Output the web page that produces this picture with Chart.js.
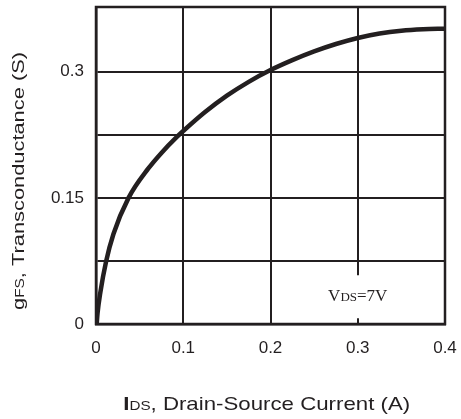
<!DOCTYPE html>
<html>
<head>
<meta charset="utf-8">
<script src="https://cdn.jsdelivr.net/npm/chart.js@4.4.1/dist/chart.umd.min.js"></script>
<style>
  html, body { margin: 0; padding: 0; background: #ffffff; }
  #wrap { width: 461px; height: 419px; }
</style>
</head>
<body>
<div id="wrap"><canvas id="c" width="461" height="419"></canvas></div>
<script>
// ---- data ----
const drainCurrentA = [0.0008, 0.0018, 0.0049, 0.0115, 0.02, 0.0373, 0.06, 0.075, 0.0927, 0.1, 0.125, 0.15, 0.175, 0.2, 0.225, 0.25, 0.275, 0.3, 0.325, 0.35, 0.375, 0.4];
const transconductanceS = [0, 0.013, 0.037, 0.074, 0.107, 0.150, 0.185, 0.2035, 0.2225, 0.2295, 0.252, 0.2715, 0.288, 0.302, 0.3138, 0.3242, 0.333, 0.3402, 0.3455, 0.3488, 0.3505, 0.3512];
const xTickLabels = [0, 0.1, 0.2, 0.3, 0.4];
const yTickLabels = [0, 0.15, 0.3];
const annotationText = ['V', 'DS', '=7V'];
const xTitleParts = ['I', 'DS', ', Drain-Source Current (A)'];
const yTitleParts = ['g', 'FS', ', Transconductance (S)'];

const INK = '#231f20';
const SANS = '"Liberation Sans", Arial, Helvetica, sans-serif';
const SERIF = '"Liberation Serif", "Times New Roman", serif';

function drawRich(ctx, segs, cx, cy, rot, targetWidth) {
  ctx.save();
  let natural = 0;
  const widths = segs.map(s => { ctx.font = s.font; const w = ctx.measureText(s.text).width; natural += w; return w; });
  const sc = targetWidth ? targetWidth / natural : 1;
  ctx.translate(cx, cy);
  ctx.rotate(rot);
  ctx.scale(sc, 1);
  ctx.fillStyle = INK;
  ctx.textBaseline = 'alphabetic';
  ctx.textAlign = 'left';
  let x = -natural / 2;
  segs.forEach((s, i) => { ctx.font = s.font; ctx.fillText(s.text, x, 0); x += widths[i]; });
  ctx.restore();
}

const decorPlugin = {
  id: 'decor',
  afterDraw(chart) {
    const ctx = chart.ctx;
    const xs = chart.scales.x, ys = chart.scales.y;
    // annotation V_DS = 7V
    const ax = xs.getPixelForValue(0.3);
    const ay = ys.getPixelForValue(0.033);
    ctx.save();
    ctx.fillStyle = '#ffffff';
    ctx.fillRect(ax - 8, ay - 21, 16, 43);
    ctx.restore();
    drawRich(ctx, [
      { text: annotationText[0], font: '17px ' + SERIF },
      { text: annotationText[1], font: '13px ' + SERIF },
      { text: annotationText[2], font: '17px ' + SERIF }
    ], ax, ay + 5, 0, 0);
    // axis titles
    drawRich(ctx, [
      { text: xTitleParts[0], font: 'bold 19px ' + SANS },
      { text: xTitleParts[1], font: '13px ' + SANS },
      { text: xTitleParts[2], font: '19px ' + SANS }
    ], 266.7, 410, 0, 287);
    drawRich(ctx, [
      { text: yTitleParts[0], font: '17px ' + SANS },
      { text: yTitleParts[1], font: '12px ' + SANS },
      { text: yTitleParts[2], font: '17px ' + SANS }
    ], 24, 181, -Math.PI / 2, 258);
    // frame
    const a = chart.chartArea;
    ctx.save();
    ctx.strokeStyle = INK;
    ctx.lineWidth = 2.5;
    ctx.strokeRect(a.left, a.top, a.right - a.left, a.bottom - a.top);
    ctx.restore();
  }
};

function near(v, list) { return list.some(t => Math.abs(t - v) < 1e-6); }
function fmt(v) { return String(Number(v.toFixed(3))); }
function noOverhang(s) { s.paddingTop = 0; s.paddingBottom = 0; s.paddingLeft = 0; s.paddingRight = 0; }

new Chart(document.getElementById('c'), {
  type: 'scatter',
  data: {
    datasets: [{
      data: drainCurrentA.map((x, i) => ({ x: x, y: transconductanceS[i] })),
      showLine: true,
      borderColor: INK,
      borderWidth: 4.5,
      pointRadius: 0,
      cubicInterpolationMode: 'monotone',
      fill: false
    }]
  },
  options: {
    responsive: false,
    animation: false,
    devicePixelRatio: 1,
    layout: { padding: { top: 7, right: 16, left: 0, bottom: 0 } },
    plugins: { legend: { display: false }, tooltip: { enabled: false } },
    scales: {
      x: {
        type: 'linear', min: 0, max: 0.4,
        afterFit(s) { s.height = 95; noOverhang(s); },
        ticks: {
          stepSize: 0.1, color: INK, padding: 14, maxRotation: 0,
          font: { family: SANS, size: 17 },
          callback: v => near(v, xTickLabels) ? fmt(v) : ''
        },
        grid: { color: INK, lineWidth: 2, drawTicks: false },
        border: { display: true, color: INK, width: 2.5 }
      },
      y: {
        type: 'linear', min: 0, max: 0.377,
        afterFit(s) { s.width = 96; noOverhang(s); },
        ticks: {
          stepSize: 0.075, color: INK, padding: 12,
          font: { family: SANS, size: 17 },
          callback: v => near(v, yTickLabels) ? fmt(v) : ''
        },
        grid: { color: INK, lineWidth: 2, drawTicks: false },
        border: { display: true, color: INK, width: 2.5 }
      }
    }
  },
  plugins: [decorPlugin]
});
</script>
</body>
</html>
